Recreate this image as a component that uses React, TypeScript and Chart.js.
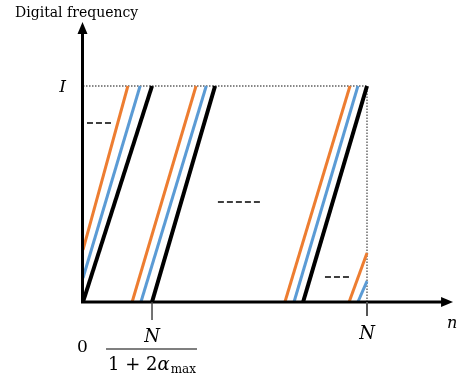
import React, { useEffect, useRef } from "react";
import { Chart, registerables } from "chart.js";
Chart.register(...registerables);

// n axis normalised so that N = 1; digital frequency normalised so that top = 1
const nMax = 1; // N
const nBreak = 0.243; // N / (1 + 2 alpha_max)
const fMax = 1;
const axisTipX = 1.303;
const axisTipY = 1.296;

// segments: [n0, f0, n1, f1]
const orangeSegments = [
  [0, 0.241, 0.158, 1],
  [0.173, 0, 0.398, 1],
  [0.711, 0, 0.94, 1],
  [0.937, 0, 1, 0.227],
];
const blueSegments = [
  [0, 0.111, 0.201, 1],
  [0.204, 0, 0.434, 1],
  [0.743, 0, 0.968, 1],
  [0.968, 0, 1, 0.097],
];
const blackSegments = [
  [0, 0, 0.243, 1],
  [0.243, 0, 0.465, 1],
  [0.775, 0, 1, 1],
];
// ellipsis dashes: [n0, n1, f]
const ellipsisDashes = [
  [0.014, 0.099, 0.829],
  [0.475, 0.623, 0.463],
  [0.852, 0.937, 0.116],
];

const yAxisTitle = "Digital frequency";
const xAxisTitle = "n";
const yTopLabel = "I";
const xZeroLabel = "0";
const nLabel = "N";

const MATH = "'DejaVu Serif'";

function seg(s: number[]) {
  return [
    { x: s[0], y: s[1] },
    { x: s[2], y: s[3] },
  ];
}

const overlayPlugin = {
  id: "overlay",
  afterDatasetsDraw(chart: any) {
    const ctx = chart.ctx as CanvasRenderingContext2D;
    const xs = chart.scales.x;
    const ys = chart.scales.y;
    const x0 = xs.getPixelForValue(0) - 0.5;
    const y0 = ys.getPixelForValue(0);
    const xTip = xs.getPixelForValue(axisTipX);
    const yTip = ys.getPixelForValue(axisTipY);
    ctx.save();
    // axes
    ctx.strokeStyle = "#000";
    ctx.fillStyle = "#000";
    ctx.lineWidth = 3;
    ctx.lineCap = "butt";
    ctx.beginPath();
    ctx.moveTo(x0, y0 + 1.5);
    ctx.lineTo(x0, yTip + 10);
    ctx.moveTo(x0 - 1.5, y0);
    ctx.lineTo(xTip - 10, y0);
    ctx.stroke();
    // arrow heads
    ctx.beginPath();
    ctx.moveTo(x0, yTip);
    ctx.lineTo(x0 - 5, yTip + 12);
    ctx.lineTo(x0 + 5, yTip + 12);
    ctx.closePath();
    ctx.fill();
    ctx.beginPath();
    ctx.moveTo(xTip, y0);
    ctx.lineTo(xTip - 12, y0 - 5);
    ctx.lineTo(xTip - 12, y0 + 5);
    ctx.closePath();
    ctx.fill();
    // ticks
    ctx.strokeStyle = "#444";
    ctx.lineWidth = 1.5;
    const xb = xs.getPixelForValue(nBreak);
    const xn = xs.getPixelForValue(nMax);
    ctx.beginPath();
    ctx.moveTo(xb, y0);
    ctx.lineTo(xb, y0 + 18);
    ctx.stroke();
    ctx.strokeStyle = "#555";
    ctx.lineWidth = 2;
    ctx.beginPath();
    ctx.moveTo(xn, y0);
    ctx.lineTo(xn, y0 + 14);
    ctx.stroke();

    // labels
    ctx.fillStyle = "#000";
    ctx.textBaseline = "alphabetic";
    ctx.textAlign = "left";
    ctx.font = "14px 'DejaVu Serif'";
    ctx.fillText(yAxisTitle, 15, 17);

    ctx.textAlign = "center";
    ctx.font = `italic 17px ${MATH}`;
    ctx.fillText(yTopLabel, x0 - 20, ys.getPixelForValue(fMax) + 6);
    ctx.font = `italic 16px ${MATH}`;
    ctx.fillText(xAxisTitle, xTip - 1, y0 + 26);
    ctx.font = `italic 18px ${MATH}`;
    ctx.fillText(nLabel, xn, y0 + 37);
    ctx.fillText(nLabel, xb, y0 + 40);
    ctx.font = `17px ${MATH}`;
    ctx.fillText(xZeroLabel, x0, y0 + 50);

    // fraction bar
    ctx.lineWidth = 1.2;
    ctx.strokeStyle = "#000";
    ctx.beginPath();
    ctx.moveTo(xb - 46, y0 + 47);
    ctx.lineTo(xb + 45, y0 + 47);
    ctx.stroke();

    // denominator 1 + 2α_max
    const p1 = "1 + 2";
    const p2 = "α";
    const p3 = "max";
    ctx.textAlign = "left";
    ctx.font = `18px ${MATH}`;
    const w1 = ctx.measureText(p1).width;
    ctx.font = `italic 18px ${MATH}`;
    const w2 = ctx.measureText(p2).width;
    ctx.font = `12px ${MATH}`;
    const w3 = ctx.measureText(p3).width;
    const total = w1 + w2 + 1 + w3;
    let cx = xb - total / 2;
    const base = y0 + 68;
    ctx.font = `18px ${MATH}`;
    ctx.fillText(p1, cx, base);
    cx += w1;
    ctx.font = `italic 18px ${MATH}`;
    ctx.fillText(p2, cx, base);
    cx += w2 + 1;
    ctx.font = `12px ${MATH}`;
    ctx.fillText(p3, cx, base + 3);
    ctx.restore();
  },
};

export default function App() {
  const ref = useRef<HTMLCanvasElement>(null);
  useEffect(() => {
    if (!ref.current) return;
    const datasets: any[] = [];
    const mk = (data: any, color: string, width: number, dash: number[] = [], order = 0) => ({
      data,
      showLine: true,
      borderColor: color,
      backgroundColor: color,
      borderWidth: width,
      borderDash: dash,
      borderCapStyle: "butt",
      pointRadius: 0,
      pointHoverRadius: 0,
      fill: false,
      clip: false,
      order,
    });
    blackSegments.forEach((s) => datasets.push(mk(seg(s), "#000000", 4, [], 0)));
    blueSegments.forEach((s) => datasets.push(mk(seg(s), "#5B9BD5", 3, [], 1)));
    orangeSegments.forEach((s) => datasets.push(mk(seg(s), "#ED7D31", 3, [], 2)));
    ellipsisDashes.forEach((d) =>
      datasets.push(mk([{ x: d[0], y: d[2] }, { x: d[1], y: d[2] }], "#000000", 1.6, [6, 3], 3))
    );
    datasets.push(mk([{ x: 0, y: fMax }, { x: nMax, y: fMax }], "#111111", 1.2, [1.5, 1.5], 4));
    datasets.push(mk([{ x: nMax, y: 0 }, { x: nMax, y: fMax }], "#444444", 1.2, [1.5, 1.5], 4));

    const chart = new Chart(ref.current, {
      type: "scatter",
      data: { datasets },
      options: {
        responsive: false,
        animation: false,
        layout: { padding: { left: 83, right: 94, top: 86, bottom: 82 } },
        scales: {
          x: { type: "linear", min: 0, max: nMax, display: false },
          y: { type: "linear", min: 0, max: fMax, display: false },
        },
        plugins: { legend: { display: false }, tooltip: { enabled: false } },
        events: [],
      },
      plugins: [overlayPlugin],
    } as any);
    return () => chart.destroy();
  }, []);
  return (
    <div style={{ position: "absolute", left: 0, top: 0, width: 461, height: 384, background: "#fff" }}>
      <canvas ref={ref} width={461} height={384} />
    </div>
  );
}
